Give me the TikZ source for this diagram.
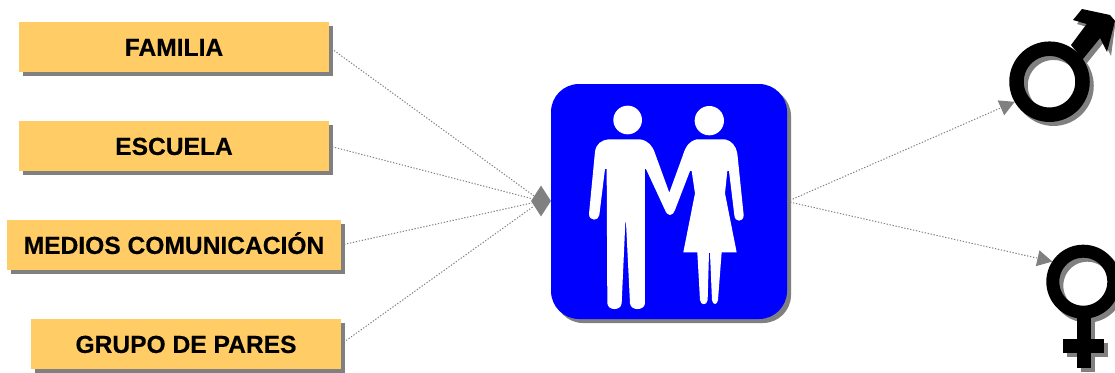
\documentclass[tikz,border=0pt]{standalone}
\usepackage{fontspec}
\setmainfont[BoldFeatures={FakeBold=0.4}]{Liberation Sans}
\usepackage{xcolor}
\usetikzlibrary{arrows.meta, shadows, shapes.geometric}
\definecolor{BoxGold}{RGB}{255,204,102}
\definecolor{HubBlue}{RGB}{0,0,255}
\definecolor{ShadeGray}{RGB}{128,128,128}

\begin{document}
\begin{tikzpicture}[
          x=1pt, y=-1pt,
          factor/.style={rectangle, fill=BoxGold, minimum height=50pt, inner sep=0pt,
                     text height=17.8pt, text depth=0pt,
                     font=\fontsize{24.6}{26}\selectfont\bfseries,
                     drop shadow={shadow xshift=4pt, shadow yshift=-4pt, fill=ShadeGray, opacity=1}},
          hub/.style={rectangle, fill=HubBlue, rounded corners=28pt, inner sep=0pt,
                     minimum width=236pt, minimum height=235pt,
                     drop shadow={shadow xshift=4pt, shadow yshift=-4pt, fill=ShadeGray, opacity=1}},
          ring/.style={circle, draw=black, inner sep=0pt},
          junction/.style={diamond, fill=ShadeGray, inner sep=0pt, aspect=0.65,
                     minimum width=20pt, minimum height=31pt},
          inarr/.style={draw=ShadeGray, line width=1pt, dash pattern=on 1.3pt off 1.7pt},
          outarr/.style={-{Triangle[length=15pt, width=16pt, color=ShadeGray]}, draw=ShadeGray,
                     line width=1pt, dash pattern=on 1.3pt off 1.7pt}
        ]
        \useasboundingbox (0,0) rectangle (1115,372);

        % Factors
        \node[factor, minimum width=310pt] (familia) at (174, 47) {FAMILIA};
        \node[factor, minimum width=310pt] (escuela) at (174, 146) {ESCUELA};
        \node[factor, minimum width=334pt] (medios) at (174, 245) {MEDIOS COMUNICACIÓN};
        \node[factor, minimum width=310pt] (grupo) at (186, 344) {GRUPO DE PARES};

        % Couple
        \node[hub] (pareja) at (669, 201.5) {};
        \begin{scope}[shift={(540,70)}, x=0.3333pt, y=-0.3333pt]
          \fill[white] (263,150) circle (43);
          \fill[white] (508,152) circle (44);
          \fill[white] (205,208) -- (300,208) .. controls (325,212) and (338,228) .. (345,250)
            -- (388,368) -- (429,255) .. controls (437,228) and (450,212) .. (470,208)
            -- (555,208) .. controls (575,212) and (588,228) .. (592,250)
            -- (611,435) .. controls (611,458) and (584,458) .. (583,435)
            -- (567,303) -- (562,303) -- (555,370) -- (590,547) -- (545,547)
            -- (534,690) .. controls (532,706) and (518,706) .. (516,690)
            -- (510,549) -- (507,549) -- (503,690) .. controls (501,707) and (482,707) .. (480,690)
            -- (472,547) -- (430,547) -- (465,370) -- (455,303) -- (450,303)
            -- (405,420) .. controls (397,440) and (383,440) .. (375,420)
            -- (318,297) -- (315,297) -- (315,700) .. controls (313,723) and (272,723) .. (270,700)
            -- (258,457) -- (256,457) -- (245,700) .. controls (243,723) and (204,723) .. (202,700)
            -- (200,297) -- (195,297) -- (178,435) .. controls (176,454) and (147,454) .. (147,432)
            -- (165,245) .. controls (168,222) and (185,210) .. (205,208) -- cycle;
        \end{scope}
        \node[junction] (llegada) at (541, 201) {};

        % Male symbol
        \node[ring, draw=ShadeGray, line width=14.5pt, minimum size=66pt] (maleshade) at (1053.5, 85.7) {};
        \fill[ShadeGray] (1075,49) -- (1090.7,28) -- (1077,24) -- (1086,13) -- (1114,19) -- (1115,26)
          -- (1111,56) -- (1104,42) -- (1086.7,63.3) -- cycle;
        \fill[black] (1071,45) -- (1086.7,24) -- (1073,20) -- (1082,9) -- (1110,15) -- (1115,21)
          -- (1107,52) -- (1100,38) -- (1082.7,59.3) -- cycle;
        \node[ring, line width=14.5pt, minimum size=66pt] (male) at (1049.5, 81.7) {};

        % Female symbol
        \node[ring, draw=ShadeGray, line width=13pt, minimum size=61pt] (femaleshade) at (1087.3, 285.7) {};
        \fill[ShadeGray] (1080.7,320) rectangle (1094.7,372);
        \fill[ShadeGray] (1066.7,343.3) rectangle (1108.3,357.3);
        \fill[black] (1076.7,316) rectangle (1090.7,368);
        \fill[black] (1062.7,339.3) rectangle (1104.3,353.3);
        \node[ring, line width=13pt, minimum size=61pt] (female) at (1083.3, 281.7) {};

        % Connectors
        \draw[inarr] (familia.east) -- (llegada);
        \draw[inarr] (escuela.east) -- (llegada);
        \draw[inarr] (medios.east) -- (llegada);
        \draw[inarr] (grupo.east) -- (llegada);
        \draw[outarr] (pareja.east) -- (male.210);
        \draw[outarr] (pareja.east) -- (female.147);
      \end{tikzpicture}
\end{document}
